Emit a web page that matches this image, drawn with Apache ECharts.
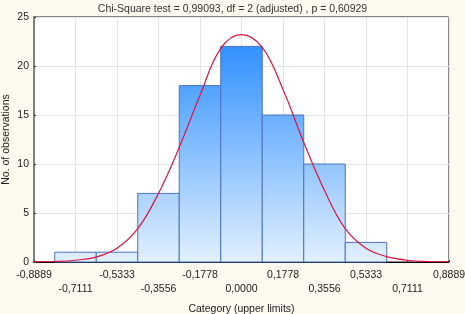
<!DOCTYPE html>
<html>
<head>
<meta charset="utf-8">
<script src="https://cdn.jsdelivr.net/npm/echarts@6/dist/echarts.min.js"></script>
<style>
  html, body { margin: 0; padding: 0; background: #fdfaef; }
  #chart { width: 465px; height: 314px; }
</style>
</head>
<body>
<div id="chart"></div>
<script>
// bin width = 0.1778, bars centred on the tick values
const BIN = 8 / 45;
const binCenters = [-0.7111, -0.5333, -0.3556, -0.1778, 0.0, 0.1778, 0.3556, 0.5333];
const counts = [1, 1, 7, 18, 22, 15, 10, 2];

// fitted normal curve
const curveX = [-0.8889, -0.8, -0.7111, -0.6222, -0.5333, -0.4444, -0.3556, -0.2667, -0.1778, -0.0889,
    0.0, 0.0889, 0.1778, 0.2667, 0.3556, 0.4444, 0.5333, 0.6222, 0.7111, 0.8, 0.8889];
const curveY = [0.01, 0.05, 0.18, 0.5, 1.4, 3.4, 7.0, 11.7, 17.0, 21.8,
    23.2, 21.9, 17.6, 12.2, 7.3, 3.4, 1.4, 0.55, 0.18, 0.05, 0.01];

const TITLE = "Chi-Square test = 0,99093, df = 2 (adjusted) , p = 0,60929";
const FONT = "'Liberation Sans', Arial, sans-serif";

const chart = echarts.init(document.getElementById("chart"));

const barFill = new echarts.graphic.LinearGradient(0, 17, 0, 262, [
    { offset: 0, color: "#1a84ff" },
    { offset: 1, color: "#e2f0ff" },
], true);

function fmt(v) {
    const k = Math.round((v + 8 / 9) / BIN);
    const val = -8 / 9 + k * BIN;
    let s = Math.abs(val) < 1e-9 ? "0.0000" : val.toFixed(4);
    s = s.replace(".", ",");
    return k % 2 === 1 ? "\n" + s : s;
}

chart.setOption({
    backgroundColor: "#fdfaef",
    animation: false,
    title: {
        text: TITLE,
        left: "center",
        top: -1,
        textStyle: { fontFamily: FONT, fontSize: 10.5, fontWeight: "normal", color: "#333" },
    },
    grid: {
        left: 34, right: 16, top: 17, bottom: 52,
        containLabel: false, outerBoundsMode: "none",
        show: true, backgroundColor: "#fff", borderColor: "#111", borderWidth: 1,
    },
    xAxis: {
        type: "value",
        min: -8 / 9,
        max: 8 / 9,
        interval: BIN,
        name: "Category (upper limits)",
        nameLocation: "middle",
        nameGap: 42,
        nameMoveOverlap: false,
        nameTextStyle: { fontFamily: FONT, fontSize: 10.5, color: "#222" },
        axisLine: { show: true, onZero: false, lineStyle: { color: "#000", width: 1 } },
        axisTick: { show: true, inside: true, length: 2, lineStyle: { color: "#333" } },
        axisLabel: {
            fontFamily: FONT, fontSize: 10.5, color: "#222", margin: 6, lineHeight: 14,
            showMinLabel: true, showMaxLabel: true, hideOverlap: false, formatter: fmt,
        },
        splitLine: { show: true, lineStyle: { color: "#e4e4e4" } },
    },
    yAxis: {
        type: "value",
        min: 0,
        max: 25,
        interval: 5,
        name: "No. of observations",
        nameLocation: "middle",
        nameRotate: 90,
        nameGap: 22,
        nameMoveOverlap: false,
        nameTextStyle: { fontFamily: FONT, fontSize: 10.5, color: "#222" },
        axisLine: { show: true, onZero: false, lineStyle: { color: "#808080", width: 2 } },
        axisTick: { show: true, inside: true, length: 2, lineStyle: { color: "#333" } },
        axisLabel: { fontFamily: FONT, fontSize: 10.5, color: "#222", margin: 5 },
        splitLine: { show: true, lineStyle: { color: "#e4e4e4" } },
    },
    series: [
        {
            type: "custom",
            data: binCenters.map((c, i) => [c, counts[i]]),
            renderItem: (params, api) => {
                const x = api.value(0);
                const y = api.value(1);
                const p1 = api.coord([x - BIN / 2, y]);
                const p2 = api.coord([x + BIN / 2, 0]);
                return {
                    type: "rect",
                    shape: { x: p1[0], y: p1[1], width: p2[0] - p1[0], height: p2[1] - p1[1] },
                    style: { fill: barFill, stroke: "#4d72c2", lineWidth: 1 },
                };
            },
            z: 2,
        },
        {
            type: "line",
            data: curveX.map((x, i) => [x, curveY[i]]),
            smooth: 0.4,
            showSymbol: false,
            lineStyle: { color: "#e0143c", width: 1.2 },
            z: 3,
        },
    ],
});
</script>
</body>
</html>
